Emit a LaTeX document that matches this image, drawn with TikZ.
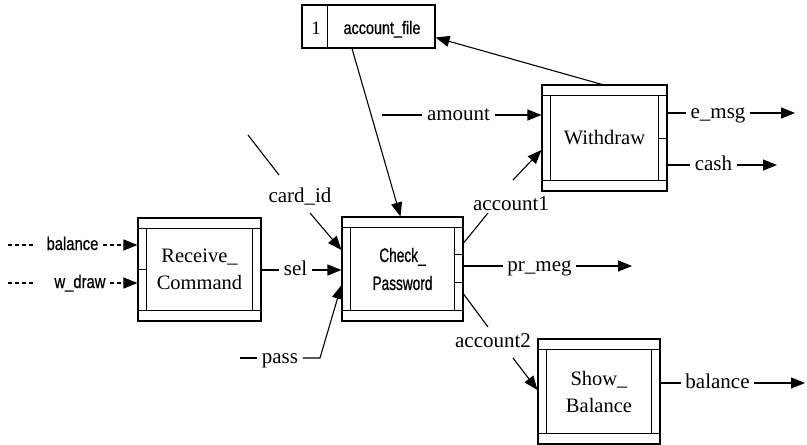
\documentclass[tikz,border=0pt]{standalone}
\usepackage{fontspec}
\setmainfont{Liberation Serif}
\newfontfamily\nsans[FakeStretch=0.8,FakeBold=0.6]{Liberation Sans}
\newfontfamily\csans[FakeStretch=0.7,FakeBold=0.8]{Liberation Sans}
\usetikzlibrary{arrows.meta}
\newcommand\procbands[1]{%
  \draw ([yshift=-11pt]#1.north west) -- ([yshift=-11pt]#1.north east);
  \draw ([yshift=11pt]#1.south west) -- ([yshift=11pt]#1.south east);
  \draw ([xshift=9pt,yshift=-11pt]#1.north west) -- ([xshift=9pt,yshift=11pt]#1.south west);
  \draw ([xshift=-9pt,yshift=-11pt]#1.north east) -- ([xshift=-9pt,yshift=11pt]#1.south east);
}
\tikzset{
  pbox/.style={draw, rectangle, inner sep=0pt, align=center,
    font=\fontsize{20.5}{27}\selectfont},
  lab/.style={inner xsep=4pt, inner ysep=0pt, text height=10pt, text depth=0pt,
    font=\fontsize{21}{24}\selectfont},
  slab/.style={lab, font=\nsans\fontsize{18.5}{24}\selectfont},
  arr/.style={-{Triangle[length=14pt,width=11pt]}},
  dsh/.style={dash pattern=on 4pt off 3pt},
}
\begin{document}
\begin{tikzpicture}[x=1pt, y=-1pt, line width=1.1pt]
\useasboundingbox (0,0) rectangle (807,445);

% process boxes
\node[pbox, minimum width=123pt, minimum height=103pt] (rc) at (199.5,269.5) {Receive\_\\Command};
\procbands{rc}
\draw ([yshift=-52pt]rc.north west) -- ([xshift=9pt,yshift=-52pt]rc.north west);

\node[pbox, minimum width=121pt, minimum height=104pt,
  font=\csans\fontsize{19.5}{28}\selectfont] (cp) at (402.5,269) {Check\_\\Password};
\procbands{cp}
\draw ([yshift=-38pt]cp.north east) -- ([xshift=-9pt,yshift=-38pt]cp.north east);
\draw ([yshift=-66pt]cp.north east) -- ([xshift=-9pt,yshift=-66pt]cp.north east);

\node[pbox, minimum width=125pt, minimum height=106pt] (wd) at (604.5,138) {Withdraw};
\procbands{wd}
\draw ([yshift=-54pt]wd.north east) -- ([xshift=-9pt,yshift=-54pt]wd.north east);

\node[pbox, minimum width=122pt, minimum height=105pt] (sb) at (599,391.5) {Show\_\\Balance};
\procbands{sb}

% data store
\node[draw, rectangle, minimum width=133pt, minimum height=43pt, inner sep=0pt] (af) at (368.5,26.5) {};
\draw ([xshift=26pt]af.north west) -- ([xshift=26pt]af.south west);
\node[lab, font=\fontsize{19}{22}\selectfont] (afn) at (316,29) {1};
\node[slab, font=\nsans\fontsize{18}{22}\selectfont] (aft) at (382,29) {account\_file};

% store connections
\draw[arr] ([xshift=-16.5pt]af.south) -- ([xshift=-2pt]cp.north);
\draw[arr] ([xshift=-2.5pt]wd.north) -- ([yshift=-11pt]af.east);

% inputs of Receive_Command
\coordinate (bs) at (8,245);
\coordinate (be) at (33,245);
\node[slab] (balin) at (72.5,245) {balance};
\draw[dsh] (bs) -- (be);
\draw[dsh, arr] (balin.east) -- (rc.west |- balin);

\coordinate (ws) at (8,283);
\coordinate (we) at (33,283);
\node[slab] (wdin) at (80,283) {w\_draw};
\draw[dsh] (ws) -- (we);
\draw[dsh, arr] (wdin.east) -- (rc.west |- wdin);

% sel
\node[lab] (sel) at (295.5,270) {sel};
\draw (rc.east |- sel) -- (sel.west);
\draw[arr] (sel.east) -- (cp.west |- sel);

% card_id
\coordinate (ci1) at (248,135);
\coordinate (ci2) at (279,175);
\draw (ci1) -- (ci2);
\node[lab] (cid) at (300,197) {card\_id};
\coordinate (ci3) at (310,213);
\draw[arr] (ci3) -- ([yshift=19pt]cp.west);

% pass
\coordinate (p0) at (240,358);
\node[lab] (pass) at (280,358) {pass};
\coordinate (p1) at (320,358);
\draw (p0) -- (pass.west);
\draw[arr] (pass.east) -- (p1) -- ([yshift=-16pt]cp.west);

% amount
\coordinate (am0) at (382,115);
\node[lab] (amt) at (458.5,115) {amount};
\draw (am0) -- (amt.west);
\draw[arr] (amt.east) -- (wd.west |- amt);

% account1
\coordinate (a1a) at (488,213);
\node[lab] (acc1) at (511,205) {account1};
\coordinate (a1b) at (513,180);
\draw ([yshift=26pt]cp.east) -- (a1a);
\draw[arr] (a1b) -- ([yshift=-12pt]wd.west);

% pr_meg
\node[lab] (prm) at (539.5,266) {pr\_meg};
\coordinate (prE) at (632,266);
\draw ([yshift=3pt]cp.east) -- (prm.west);
\draw[arr] (prm.east) -- (prE);

% account2
\coordinate (a2a) at (488,327);
\node[lab] (acc2) at (493,342) {account2};
\coordinate (a2b) at (513,358);
\draw ([yshift=-25pt]cp.east) -- (a2a);
\draw[arr] (a2b) -- ([yshift=1.5pt]sb.west);

% Withdraw outputs
\node[lab] (em) at (718,113) {e\_msg};
\coordinate (emE) at (795,113);
\draw (wd.east |- em) -- (em.west);
\draw[arr] (em.east) -- (emE);

\node[lab] (cash) at (713.5,165) {cash};
\coordinate (caE) at (777,165);
\draw (wd.east |- cash) -- (cash.west);
\draw[arr] (cash.east) -- (caE);

% Show_Balance output
\node[lab] (bo) at (717.5,383) {balance};
\coordinate (boE) at (805,383);
\draw (sb.east |- bo) -- (bo.west);
\draw[arr] (bo.east) -- (boE);
\end{tikzpicture}
\end{document}
